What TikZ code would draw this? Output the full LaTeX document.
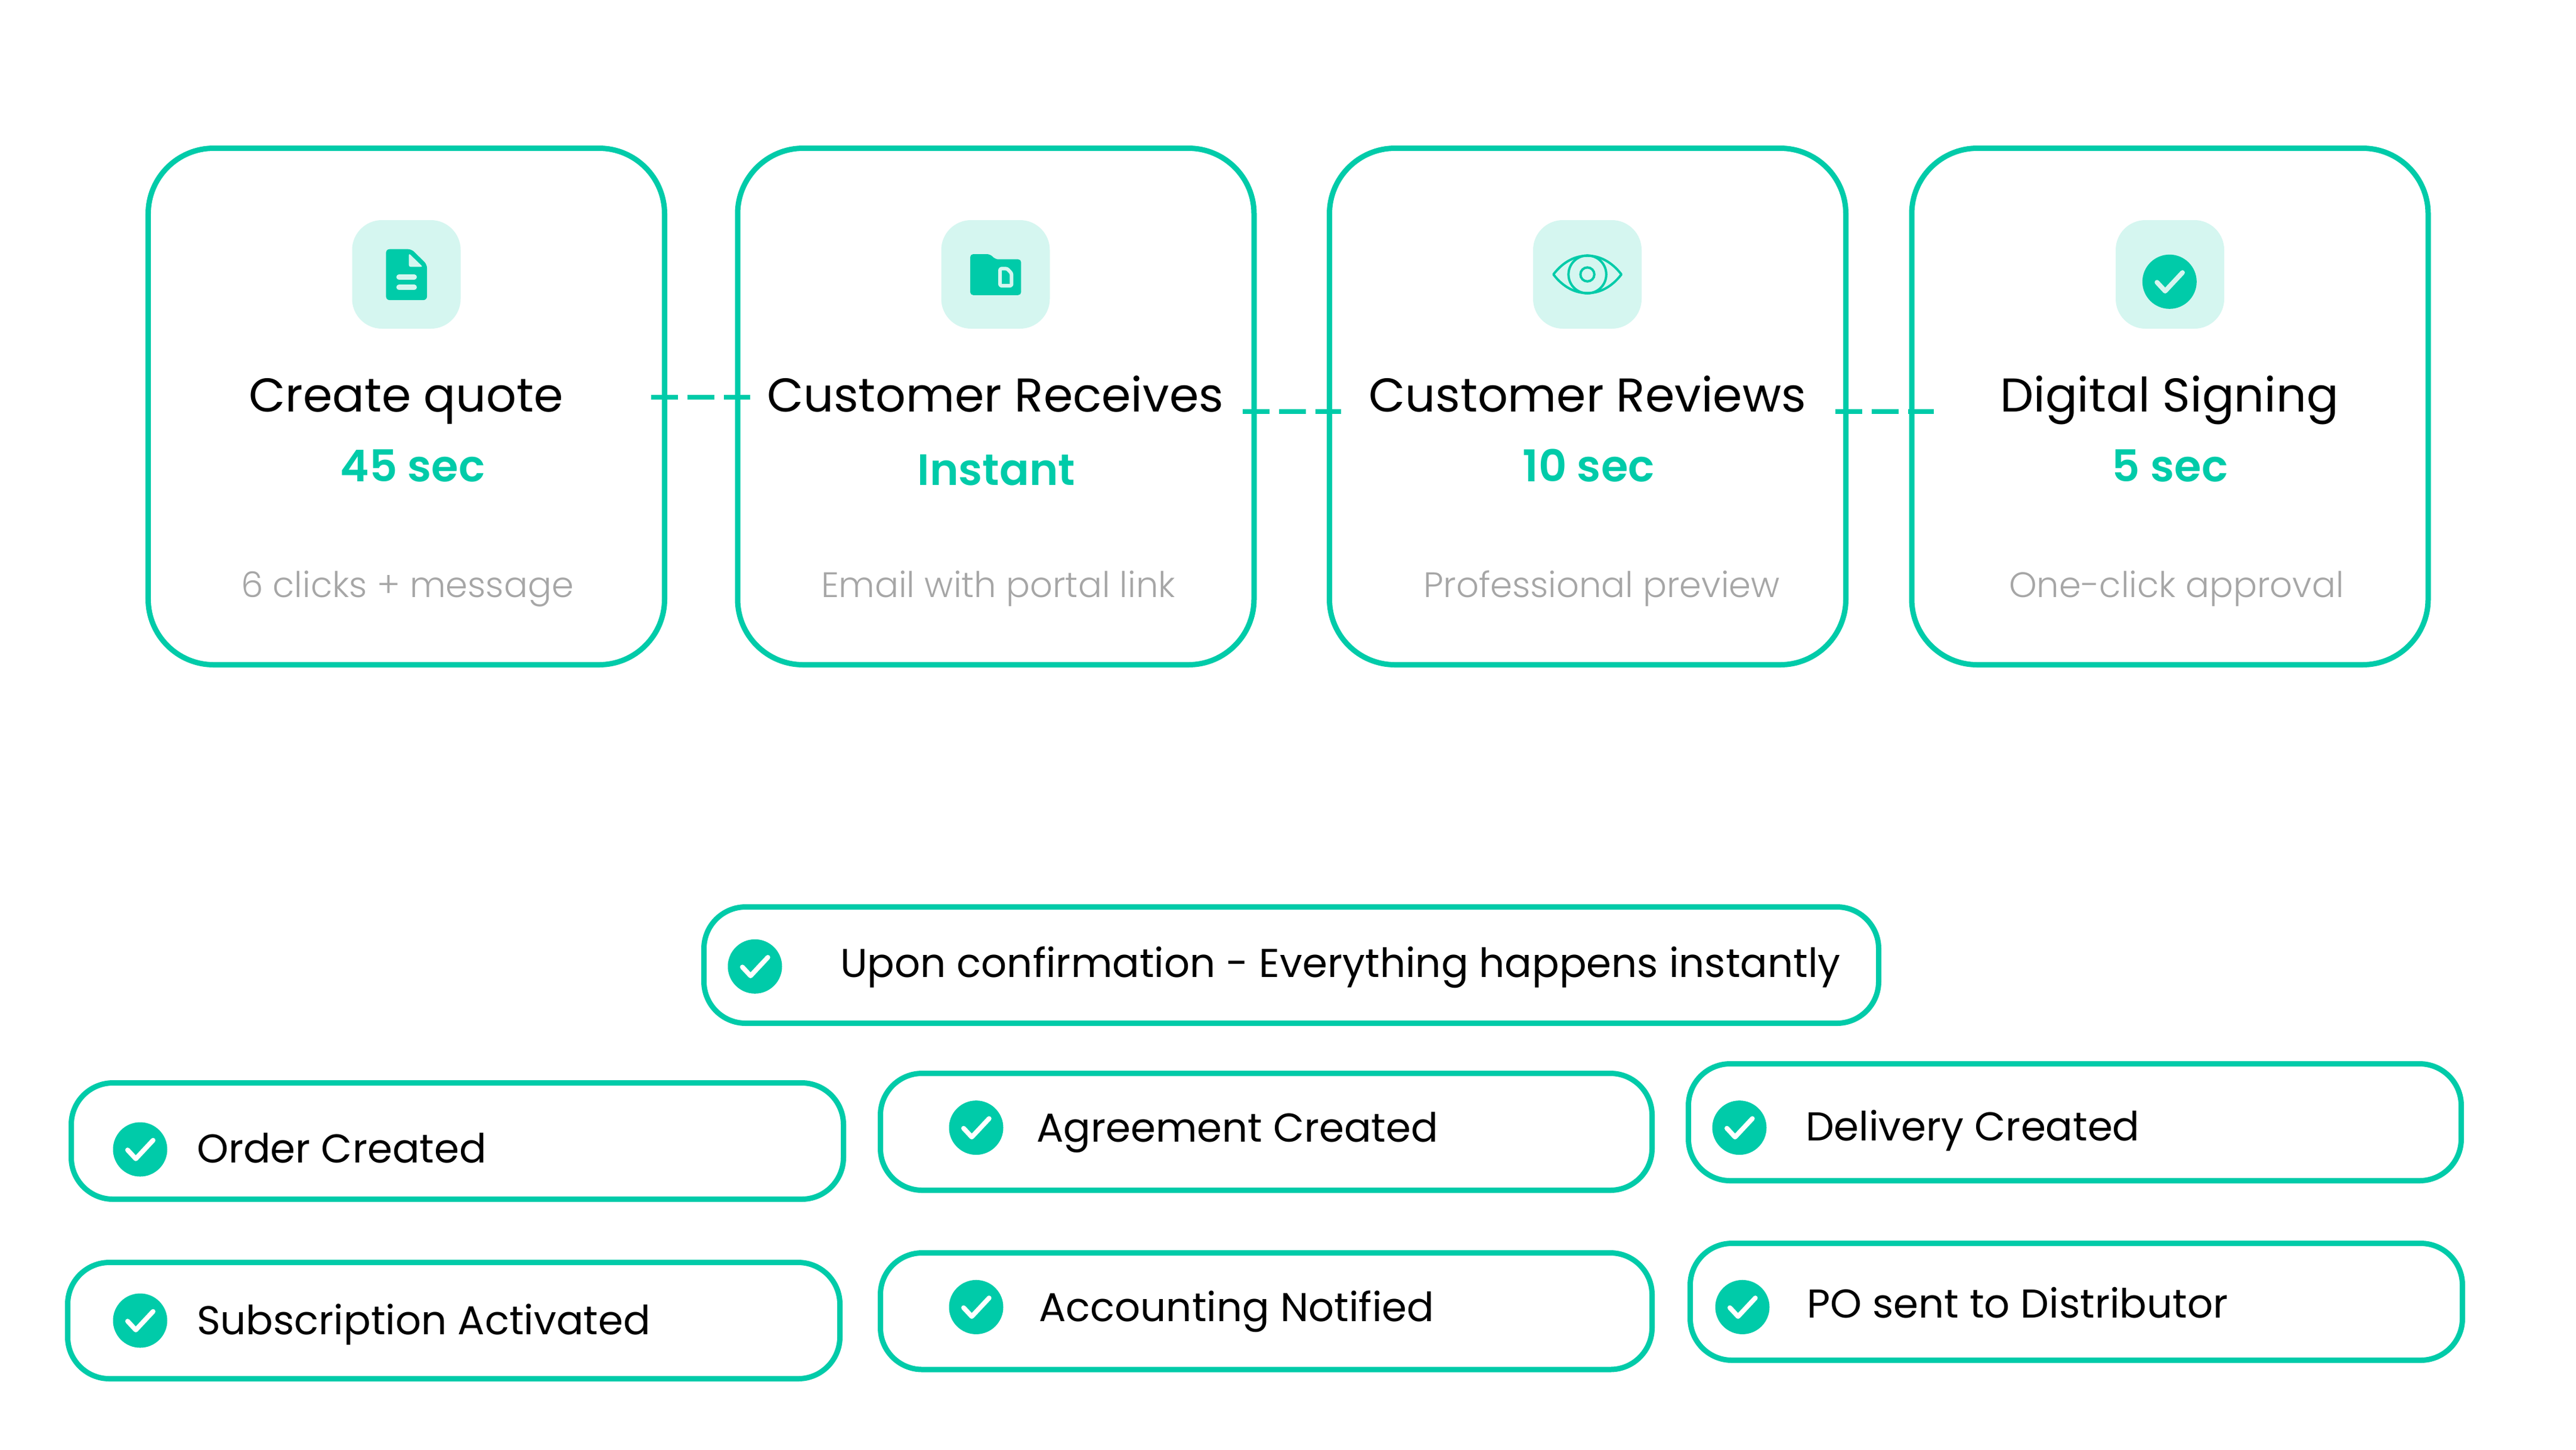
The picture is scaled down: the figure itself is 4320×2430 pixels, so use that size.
\documentclass[tikz,border=0pt]{standalone}
\usepackage{fontspec}
\setmainfont{Poppins}
\newfontfamily\popl{Poppins Light}
\newfontfamily\pops{Poppins SemiBold}
\usetikzlibrary{calc}
\definecolor{tk}{HTML}{00CBA9}
\definecolor{tl}{HTML}{D5F6F0}
\definecolor{gy}{HTML}{A6A6A6}
\tikzset{
  cardbox/.style={draw=tk,line width=1.8pt,rounded corners=22pt,minimum width=173.2pt,minimum height=173.2pt,inner sep=0pt,outer sep=0pt},
  pillbox/.style={draw=tk,line width=1.8pt,rounded corners=14pt,inner sep=0pt,outer sep=0pt},
  tilebox/.style={fill=tl,rounded corners=10pt,minimum width=36.4pt,minimum height=36.4pt,inner sep=0pt,outer sep=0pt},
  okdisc/.style={circle,fill=tk,minimum size=18.2pt,inner sep=0pt,outer sep=0pt},
  okcheck/.style={draw=#1,line width=1.6pt,line cap=round,line join=round},
  flowline/.style={draw=tk,line width=1.6pt,dash pattern=on 9pt off 3.2pt},
  titletext/.style={inner sep=0pt,anchor=base,font=\fontsize{15.9pt}{19pt}\selectfont,text=black},
  timetext/.style={inner sep=0pt,anchor=base,font=\pops\fontsize{14.7pt}{18pt}\selectfont,text=tk},
  subtext/.style={inner sep=0pt,anchor=base,font=\popl\fontsize{11.85pt}{15pt}\selectfont,text=gy},
  pilltext/.style={inner sep=0pt,anchor=base west,font=\fontsize{13.5pt}{17pt}\selectfont,text=black},
  iconunit/.style={x=0.0667pt,y=-0.0667pt}
}
\newcommand\okmark[4]{%
  \node[okdisc] (#1) at (#2,#3) {};
  \draw[okcheck=#4] ([shift={(-21,1)}]#1.center) -- ([shift={(-7.3,15.7)}]#1.center) -- ([shift={(21.7,-15.3)}]#1.center);
}
\newcommand\pillitem[9]{%
  \node[pillbox,minimum width={(#4-#2-9)*0.2pt},minimum height={(#5-#3-9)*0.2pt}] (#1) at ({(#2+#4)/2},{(#3+#5)/2}) {};
  \okmark{#1ok}{#6}{#7}{white}
  \node[pilltext] (#1txt) at (#8,#9) {\pilllabel};
}
\begin{document}
\begin{tikzpicture}[x=0.2pt,y=-0.2pt]
\useasboundingbox (0,0) rectangle (4320,2430);
\fill[white] (0,0) rectangle (4320,2430);

% cards
\node[cardbox] (card1) at (681.5,681.5) {};
\node[cardbox] (card2) at (1670,681.5) {};
\node[cardbox] (card3) at (2662.5,681.5) {};
\node[cardbox] (card4) at (3639,681.5) {};

% connectors
\draw[flowline] ([shift={(-22.5,-15.5)}]card1.east) -- ([shift={(21,-15.5)}]card2.west);
\draw[flowline] ([shift={(-19,8.5)}]card2.east) -- ([shift={(19,8.5)}]card3.west);
\draw[flowline] ([shift={(-18,8.5)}]card3.east) -- ([shift={(36.5,8.5)}]card4.west);

% icon tiles
\node[tilebox] (tile1) at (681.5,460) {};
\node[tilebox] (tile2) at (1669.5,460) {};
\node[tilebox] (tile3) at (2662,460) {};
\node[tilebox] (tile4) at (3639,460) {};

% document icon
\begin{scope}[shift={(570,330)},iconunit]
  \fill[tk,rounded corners=1.2pt] (232,263) -- (360,263) -- (438,340) -- (438,519) -- (232,519) -- cycle;
  \fill[tl,rounded corners=0.6pt] (347,284) -- (347,352) -- (417,352) -- cycle;
  \draw[tl,line width=1.73pt,line cap=round] (297,403) -- (374,403);
  \draw[tl,line width=1.73pt,line cap=round] (297,455) -- (374,455);
\end{scope}

% folder icon
\begin{scope}[shift={(1500,330)},iconunit]
  \fill[tk,rounded corners=1pt] (381,288) -- (480,288) -- (508,314) -- (637,314) -- (637,494) -- (381,494) -- cycle;
  \draw[tl,line width=1.2pt,rounded corners=0.5pt,line join=round] (531,361) -- (567,361) -- (589,385) -- (589,447) -- (531,447) -- cycle;
\end{scope}

% eye icon
\begin{scope}[shift={(2520,330)},iconunit]
  \draw[tk,line width=0.8pt,line join=round] (255,390) .. controls (305,325) and (365,296) .. (426,296) .. controls (487,296) and (547,325) .. (597,390) .. controls (547,455) and (487,484) .. (426,484) .. controls (365,484) and (305,455) .. (255,390) -- cycle;
  \draw[tk,line width=0.8pt] (426,390) circle[radius=95];
  \draw[tk,line width=0.8pt] (426,390) circle[radius=35];
\end{scope}

% signing icon
\okmark{signok}{3638.3}{472.3}{tl}

% card texts
\node[titletext] (t1) at (681,690) {Create quote};
\node[timetext] (s1) at (692,807.5) {45 sec};
\node[subtext] (n1) at (683,1001.5) {6 clicks + message};

\node[titletext] (t2) at (1669,690) {Customer Receives};
\node[timetext] (s2) at (1671,813.5) {Instant};
\node[subtext] (n2) at (1674,1001.5) {Email with portal link};

\node[titletext] (t3) at (2662,690) {Customer Reviews};
\node[timetext] (s3) at (2664,807.5) {10 sec};
\node[subtext] (n3) at (2686,1001.5) {Professional preview};

\node[titletext] (t4) at (3638,690) {Digital Signing};
\node[timetext] (s4) at (3639,807.5) {5 sec};
\node[subtext] (n4) at (3650,1001.5) {One-click approval};

% pills
\def\pilllabel{Upon confirmation - Everything happens instantly}
\pillitem{top}{1176}{1516}{3155}{1720}{1266}{1620.3}{1408}{1638}
\def\pilllabel{Order Created}
\pillitem{order}{115}{1811}{1419}{2015}{235}{1927}{329}{1949}
\def\pilllabel{Subscription Activated}
\pillitem{subs}{109}{2112}{1413}{2316}{235}{2214}{329}{2237.5}
\def\pilllabel{Agreement Created}
\pillitem{agree}{1472}{1795}{2775}{2000}{1637}{1890.6}{1737}{1914}
\def\pilllabel{Accounting Notified}
\pillitem{acct}{1472}{2096}{2775}{2300.5}{1637}{2191.4}{1741}{2215}
\def\pilllabel{Delivery Created}
\pillitem{deliv}{2827}{1779}{4132}{1984}{2917}{1890.6}{3027}{1912.5}
\def\pilllabel{PO sent to Distributor}
\pillitem{po}{2830}{2080}{4134}{2285}{2922}{2191.4}{3029}{2209}
\end{tikzpicture}
\end{document}
